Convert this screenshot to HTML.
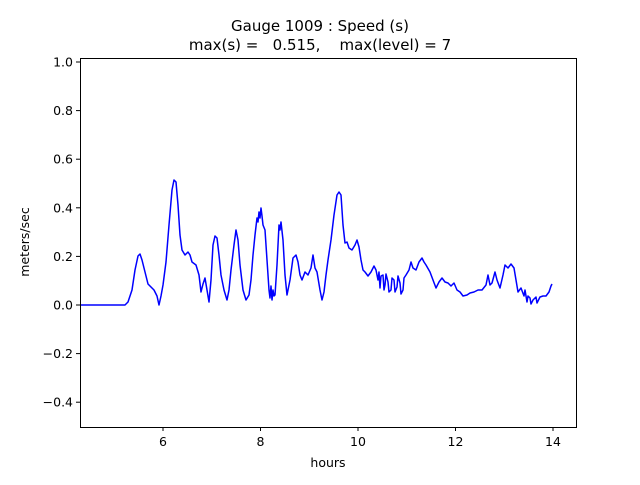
<!DOCTYPE html>
<html><head><meta charset="utf-8"><style>
body{margin:0;background:#fff}
svg text{font-family:"DejaVu Sans","Liberation Sans",sans-serif;fill:#000}
</style></head><body>
<svg width="640" height="480" viewBox="0 0 640 480" xmlns="http://www.w3.org/2000/svg">
<rect width="640" height="480" fill="#fff"/>
<text x="320" y="31" font-size="15" text-anchor="middle">Gauge 1009 : Speed (s)</text>
<text x="320" y="50" font-size="15" text-anchor="middle" xml:space="preserve">max(s) =   0.515,    max(level) = 7</text>
<clipPath id="c"><rect x="80" y="58" width="496" height="369"/></clipPath>
<polyline clip-path="url(#c)" fill="none" stroke="#0000ff" stroke-width="1.5" stroke-linejoin="round" points="80,305 125,305 128,302 132,290 135,270 138,256 140,254 142,260 145,272 148,284 151,287 154,290 157,296 159,305 161,296 163,285 166,262 169,225 172,190 174,180 176,182 178,205 180,235 182,250 185,255 188,252 190,255 192,262 196,265 199,275 201,292 203,284 205,278 207,290 209,302 211,280 213,245 215,236 217,238 219,255 221,275 224,290 227,300 229,290 231,270 234,245 236,230 238,240 240,265 243,290 246,300 249,295 251,280 253,255 255,235 257,218 258,222 259,212 260,218 261,208 262,216 263,225 265,230 267,260 269,290 270,298 271,286 272,300 273,290 274,296 275,295 277,265 279,225 280,230 281,222 283,240 285,275 287,295 290,280 293,258 296,255 298,262 300,275 302,280 305,272 308,275 311,268 313,255 315,268 317,272 320,290 322,300 324,292 326,275 328,260 331,240 334,215 337,195 339,192 341,195 343,225 345,243 347,242 349,248 352,250 355,245 357,240 359,247 361,260 363,270 365,272 368,276 371,272 374,266 376,270 378,280 379,272 380,288 381,276 383,275 384,290 385,285 386,274 388,282 389,292 391,290 392,278 394,280 395,292 397,287 398,276 400,283 401,294 403,290 404,278 406,275 409,270 411,262 413,268 416,270 419,262 422,258 424,262 426,265 430,272 433,280 436,288 439,282 442,278 445,282 448,283 451,286 454,283 457,290 460,292 463,296 467,295 470,293 474,292 478,290 482,290 486,285 488,275 490,285 492,283 495,272 497,280 500,288 503,275 505,265 508,268 511,264 514,268 516,280 518,292 521,288 524,296 525,290 527,302 528,296 530,298 531,304 533,300 536,297 537,303 540,297 543,296 546,296 549,292 551,286 552,284"/>
<rect x="80.5" y="58.5" width="496" height="369" fill="none" stroke="#000" stroke-width="1"/>
<g stroke="#000" stroke-width="1">
<line x1="163" y1="427" x2="163" y2="431"/><line x1="260.5" y1="427" x2="260.5" y2="431"/><line x1="358" y1="427" x2="358" y2="431"/><line x1="455.5" y1="427" x2="455.5" y2="431"/><line x1="553" y1="427" x2="553" y2="431"/>
<line x1="76" y1="62" x2="80" y2="62"/><line x1="76" y1="110.6" x2="80" y2="110.6"/><line x1="76" y1="159.2" x2="80" y2="159.2"/><line x1="76" y1="207.8" x2="80" y2="207.8"/><line x1="76" y1="256.4" x2="80" y2="256.4"/><line x1="76" y1="305" x2="80" y2="305"/><line x1="76" y1="353.6" x2="80" y2="353.6"/><line x1="76" y1="402.2" x2="80" y2="402.2"/>
</g>
<g font-size="12.5" text-anchor="middle">
<text x="163" y="446">6</text><text x="260.5" y="446">8</text><text x="358" y="446">10</text><text x="455.5" y="446">12</text><text x="553" y="446">14</text>
</g>
<g font-size="12.5" text-anchor="end">
<text x="73" y="66.5">1.0</text><text x="73" y="115">0.8</text><text x="73" y="163.7">0.6</text><text x="73" y="212.3">0.4</text><text x="73" y="261">0.2</text><text x="73" y="309.5">0.0</text><text x="73" y="358">−0.2</text><text x="73" y="406.7">−0.4</text>
</g>
<text x="328" y="467" font-size="12.5" text-anchor="middle">hours</text>
<text transform="translate(29,242) rotate(-90)" font-size="12.5" text-anchor="middle">meters/sec</text>
</svg>
</body></html>
